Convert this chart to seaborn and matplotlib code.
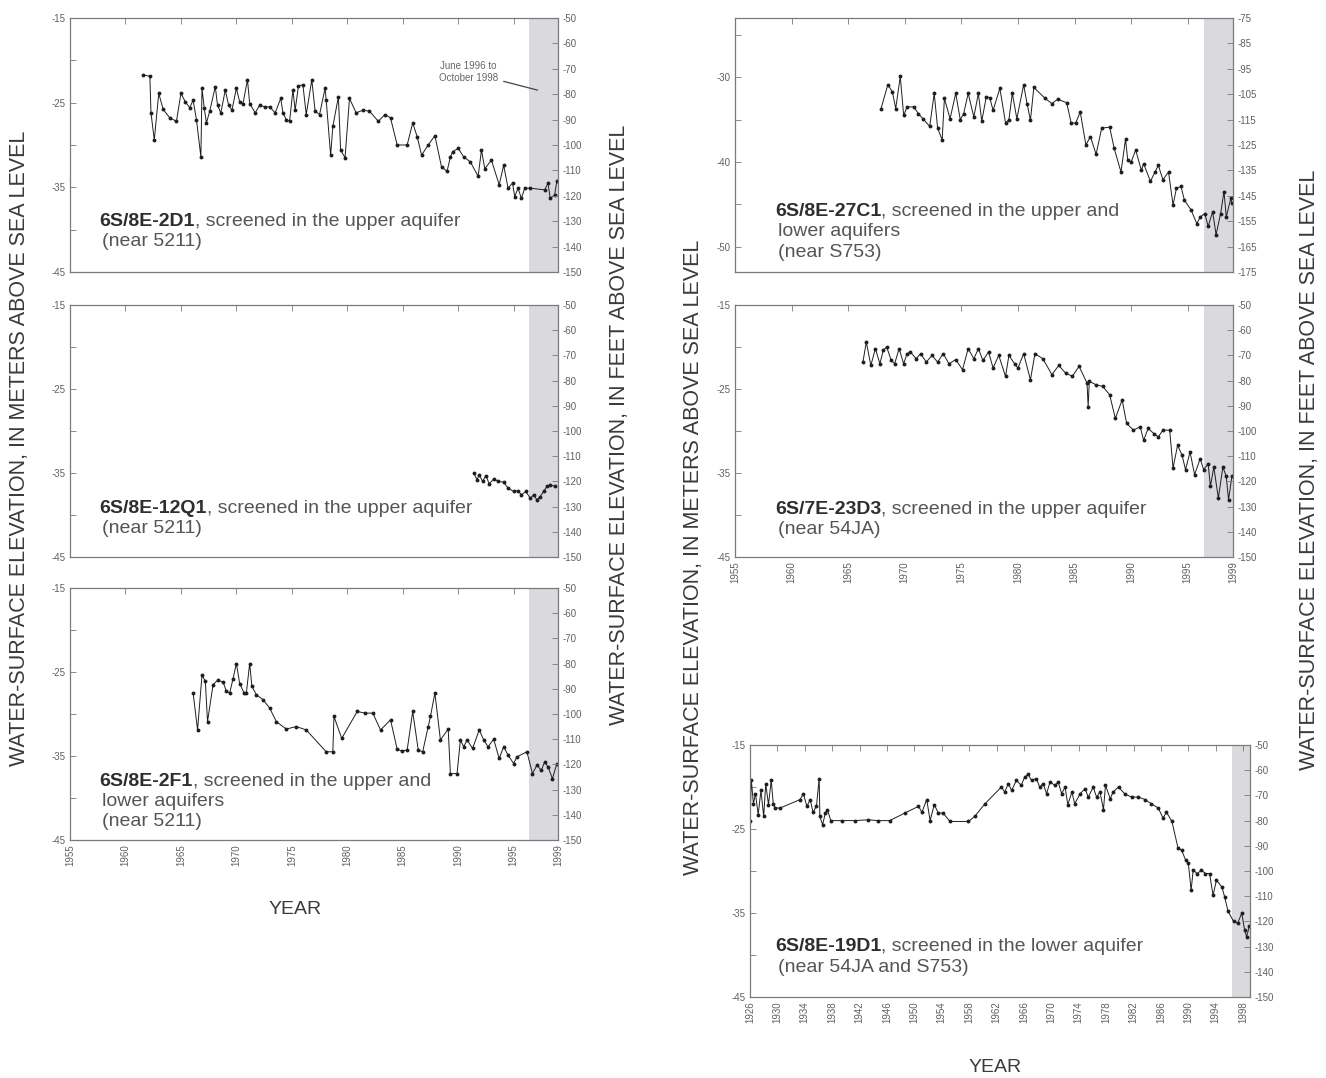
import matplotlib
matplotlib.use('Agg')
import matplotlib.pyplot as plt
import seaborn as sns

# ---- hydrograph readings (decimal year, water level in metres) ----
yr_2d1 = [1961.6, 1962.2, 1962.3, 1962.6, 1963.0, 1963.4, 1964.0, 1964.6, 1965.0, 1965.4,
          1965.8, 1966.1, 1966.4, 1966.8, 1966.9, 1967.1, 1967.3, 1967.6, 1968.1, 1968.3,
          1968.6, 1969.0, 1969.3, 1969.6, 1970.0, 1970.3, 1970.6, 1971.0, 1971.2, 1971.7,
          1972.1, 1972.6, 1973.0, 1973.5, 1974.0, 1974.2, 1974.5, 1974.8, 1975.1, 1975.3,
          1975.6, 1976.0, 1976.3, 1976.8, 1977.1, 1977.5, 1978.0, 1978.1, 1978.5, 1978.7,
          1979.2, 1979.4, 1979.8, 1980.2, 1980.8, 1981.4, 1982.0, 1982.8, 1983.4, 1983.9,
          1984.5, 1985.4, 1985.9, 1986.3, 1986.7, 1987.3, 1987.9, 1988.5, 1989.0, 1989.3,
          1989.5, 1990.0, 1990.5, 1991.1, 1991.8, 1992.1, 1992.4, 1993.0, 1993.7, 1994.1,
          1994.5, 1994.9, 1995.1, 1995.4, 1995.7, 1996.0, 1996.5, 1997.8, 1998.1, 1998.3,
          1998.7, 1998.9]
lev_2d1 = [-21.7, -21.9, -26.2, -29.4, -23.9, -25.8, -26.8, -27.2, -23.9, -24.9,
           -25.6, -24.7, -27.0, -31.4, -23.3, -25.6, -27.4, -26.0, -23.1, -25.3,
           -26.2, -23.5, -25.3, -25.9, -23.3, -24.9, -25.1, -22.3, -25.1, -26.2,
           -25.3, -25.5, -25.5, -26.2, -24.5, -26.2, -27.0, -27.2, -23.5, -25.9,
           -23.0, -22.9, -26.4, -22.3, -26.0, -26.4, -23.3, -24.7, -31.2, -27.8,
           -24.3, -30.6, -31.5, -24.5, -26.2, -25.9, -26.0, -27.2, -26.4, -26.8,
           -30.0, -30.0, -27.4, -29.0, -31.2, -30.0, -28.9, -32.6, -33.1, -31.4,
           -30.8, -30.4, -31.4, -32.0, -33.7, -30.6, -32.8, -31.8, -34.7, -32.4,
           -35.1, -34.5, -36.1, -35.1, -36.3, -35.1, -35.1, -35.3, -34.5, -36.3,
           -35.9, -34.2]

yr_12q1 = [1991.4, 1991.7, 1991.9, 1992.2, 1992.5, 1992.8, 1993.2, 1993.6, 1994.1, 1994.5,
           1995.0, 1995.4, 1995.7, 1996.1, 1996.5, 1996.8, 1997.1, 1997.4, 1997.7, 1998.0,
           1998.3, 1998.7]
lev_12q1 = [-35.0, -35.8, -35.2, -36.0, -35.3, -36.3, -35.7, -36.0, -36.1, -36.8,
            -37.2, -37.1, -37.6, -37.2, -38.0, -37.6, -38.2, -37.8, -37.2, -36.6,
            -36.4, -36.6]

yr_2f1 = [1966.1, 1966.5, 1966.9, 1967.2, 1967.4, 1967.9, 1968.3, 1968.8, 1969.1, 1969.4,
          1969.7, 1970.0, 1970.3, 1970.7, 1970.9, 1971.2, 1971.4, 1971.8, 1972.4, 1973.0,
          1973.6, 1974.5, 1975.4, 1976.3, 1978.1, 1978.7, 1978.8, 1979.5, 1980.9, 1981.6,
          1982.3, 1983.0, 1983.9, 1984.5, 1984.9, 1985.4, 1985.9, 1986.4, 1986.8, 1987.3,
          1987.5, 1987.9, 1988.4, 1989.1, 1989.3, 1989.9, 1990.2, 1990.5, 1990.8, 1991.3,
          1991.9, 1992.3, 1992.7, 1993.2, 1993.7, 1994.1, 1994.5, 1995.0, 1995.3, 1996.2,
          1996.7, 1997.1, 1997.5, 1997.8, 1998.1, 1998.5, 1998.9]
lev_2f1 = [-27.5, -31.9, -25.4, -26.1, -30.9, -26.5, -26.0, -26.2, -27.3, -27.5,
           -25.8, -24.0, -26.4, -27.5, -27.5, -24.0, -26.7, -27.7, -28.3, -29.3,
           -30.9, -31.8, -31.5, -31.9, -34.5, -34.5, -30.3, -32.9, -29.7, -29.9,
           -29.9, -31.9, -30.7, -34.2, -34.4, -34.3, -29.7, -34.3, -34.5, -31.5,
           -30.3, -27.5, -33.1, -31.8, -37.1, -37.1, -33.1, -33.9, -33.1, -34.1,
           -31.9, -33.1, -33.9, -33.0, -35.3, -33.9, -34.9, -35.9, -35.1, -34.5,
           -37.1, -36.1, -36.7, -35.7, -36.3, -37.7, -35.9]

yr_27c1 = [1967.9, 1968.5, 1968.9, 1969.2, 1969.6, 1969.9, 1970.2, 1970.8, 1971.2, 1971.6,
           1972.2, 1972.6, 1972.9, 1973.3, 1973.5, 1974.0, 1974.5, 1974.9, 1975.2, 1975.6,
           1976.1, 1976.5, 1976.8, 1977.2, 1977.5, 1977.8, 1978.4, 1978.9, 1979.2, 1979.5,
           1979.9, 1980.5, 1980.8, 1981.1, 1981.4, 1982.4, 1983.0, 1983.5, 1984.3, 1984.7,
           1985.1, 1985.5, 1986.0, 1986.4, 1986.9, 1987.4, 1988.1, 1988.5, 1989.1, 1989.5,
           1989.7, 1990.0, 1990.4, 1990.9, 1991.1, 1991.7, 1992.1, 1992.4, 1992.8, 1993.3,
           1993.7, 1994.0, 1994.4, 1994.7, 1995.3, 1995.8, 1996.1, 1996.5, 1996.8, 1997.2,
           1997.5, 1997.9, 1998.2, 1998.4, 1998.8, 1998.9]
lev_27c1 = [-33.7, -30.9, -31.7, -33.7, -29.9, -34.5, -33.5, -33.5, -34.3, -34.9,
            -35.8, -31.9, -36.0, -37.4, -32.5, -34.9, -31.9, -35.0, -34.3, -31.9,
            -34.7, -31.9, -35.2, -32.3, -32.4, -33.9, -31.3, -35.4, -35.0, -31.9,
            -34.9, -30.9, -33.1, -35.1, -31.2, -32.5, -33.1, -32.6, -33.0, -35.4,
            -35.4, -34.1, -38.0, -37.0, -39.1, -36.0, -35.9, -38.4, -41.2, -37.3,
            -39.8, -40.0, -38.6, -41.0, -40.2, -42.3, -41.2, -40.4, -42.1, -41.2,
            -45.1, -43.1, -42.9, -44.5, -45.7, -47.3, -46.5, -46.1, -47.6, -45.9,
            -48.6, -46.1, -43.5, -46.5, -44.3, -44.9]

yr_23d3 = [1966.3, 1966.6, 1967.0, 1967.4, 1967.8, 1968.1, 1968.4, 1968.8, 1969.1, 1969.5,
           1969.9, 1970.2, 1970.5, 1971.0, 1971.4, 1971.9, 1972.4, 1972.9, 1973.4, 1973.9,
           1974.5, 1975.1, 1975.6, 1976.1, 1976.5, 1976.9, 1977.4, 1977.8, 1978.3, 1978.9,
           1979.2, 1979.7, 1980.0, 1980.5, 1981.1, 1981.5, 1982.2, 1983.0, 1983.6, 1984.2,
           1984.8, 1985.4, 1986.1, 1986.2, 1986.3, 1986.9, 1987.5, 1988.1, 1988.6, 1989.2,
           1989.6, 1990.2, 1990.8, 1991.1, 1991.5, 1992.0, 1992.4, 1992.8, 1993.4, 1993.7,
           1994.1, 1994.5, 1994.8, 1995.2, 1995.6, 1996.1, 1996.4, 1996.8, 1997.0, 1997.3,
           1997.7, 1998.1, 1998.4, 1998.6, 1998.9]
lev_23d3 = [-21.8, -19.4, -22.2, -20.2, -22.0, -20.4, -20.0, -21.6, -22.0, -20.2,
            -22.0, -20.8, -20.6, -21.4, -20.8, -21.8, -21.0, -21.8, -20.8, -22.0,
            -21.5, -22.7, -20.2, -21.4, -20.2, -21.6, -20.6, -22.5, -21.0, -23.5,
            -21.0, -22.0, -22.5, -20.8, -23.9, -20.8, -21.4, -23.3, -22.2, -23.1,
            -23.5, -22.3, -24.3, -27.1, -24.1, -24.5, -24.7, -25.7, -28.5, -26.3,
            -29.1, -29.9, -29.5, -31.1, -29.7, -30.3, -30.7, -29.9, -29.9, -34.4,
            -31.7, -32.9, -34.6, -32.5, -35.2, -33.3, -34.6, -33.9, -36.6, -34.3,
            -38.0, -34.3, -35.4, -38.2, -35.4]

yr_19d1 = [1926.0, 1926.2, 1926.5, 1926.8, 1927.2, 1927.6, 1928.0, 1928.3, 1928.7, 1929.1,
           1929.4, 1929.7, 1930.4, 1933.3, 1933.8, 1934.3, 1934.8, 1935.2, 1935.7, 1936.1,
           1936.2, 1936.6, 1937.0, 1937.3, 1937.8, 1939.4, 1941.3, 1943.3, 1944.7, 1946.4,
           1948.6, 1950.6, 1951.1, 1951.8, 1952.3, 1952.9, 1953.5, 1954.2, 1955.2, 1957.9,
           1958.8, 1960.3, 1962.7, 1963.2, 1963.7, 1964.2, 1964.9, 1965.6, 1966.1, 1966.6,
           1967.1, 1967.8, 1968.3, 1968.8, 1969.3, 1969.8, 1970.5, 1971.0, 1971.5, 1972.0,
           1972.4, 1973.0, 1973.4, 1974.2, 1974.9, 1975.4, 1976.1, 1976.6, 1977.1, 1977.6,
           1977.9, 1978.6, 1979.0, 1979.8, 1980.7, 1981.7, 1982.7, 1983.7, 1984.6, 1985.6,
           1986.3, 1986.8, 1987.6, 1988.5, 1989.0, 1989.6, 1990.0, 1990.4, 1990.7, 1991.3,
           1991.9, 1992.5, 1993.1, 1993.6, 1994.1, 1994.9, 1995.3, 1995.8, 1996.6, 1997.2,
           1997.8, 1998.2, 1998.5, 1998.9]
lev_19d1 = [-24.1, -19.2, -22.0, -20.8, -23.3, -20.4, -23.5, -19.6, -22.1, -19.2,
            -22.0, -22.5, -22.5, -21.5, -20.8, -22.3, -21.5, -23.0, -22.3, -19.0,
            -23.5, -24.5, -23.1, -22.7, -24.0, -24.0, -24.0, -23.9, -24.0, -24.0,
            -23.1, -22.3, -23.0, -21.5, -24.0, -22.1, -23.1, -23.1, -24.1, -24.1,
            -23.5, -22.0, -20.0, -20.6, -19.6, -20.4, -19.2, -19.8, -18.8, -18.5,
            -19.2, -19.0, -20.0, -19.6, -20.8, -19.4, -19.8, -19.4, -20.8, -20.0,
            -22.1, -20.6, -22.0, -20.8, -20.2, -21.2, -20.0, -21.2, -20.6, -22.7,
            -19.8, -21.4, -20.6, -20.0, -20.8, -21.2, -21.2, -21.5, -22.0, -22.5,
            -23.7, -23.0, -24.1, -27.3, -27.5, -28.7, -29.1, -32.3, -29.9, -30.3,
            -29.9, -30.3, -30.3, -32.9, -31.1, -31.9, -33.1, -34.8, -36.0, -36.2,
            -35.0, -37.0, -37.8, -36.6]

# period shaded on every hydrograph (June 1996 to October 1998)
shade_start, shade_end = 1996.42, 1999.0

years_short = [1955, 1960, 1965, 1970, 1975, 1980, 1985, 1990, 1995, 1999]
years_long = list(range(1926, 1999, 4))

m_std = list(range(-15, -46, -5))
m_std_lab = [-15, -25, -35, -45]
m_top = list(range(-25, -51, -5))
m_top_lab = [-30, -40, -50]
ft_std = list(range(-50, -151, -10))
ft_top = list(range(-75, -176, -10))

sns.set_theme(style='white')
plt.rcParams['font.family'] = ['Liberation Sans', 'DejaVu Sans']
plt.rcParams['axes.unicode_minus'] = False

fig = plt.figure(figsize=(13.26, 10.78), dpi=100)

FRAME = '#7a7a7a'
TICKC = '#606060'
LINEC = '#1e1e1e'
TXT = 14


def panel(rect, yrs, levs, xlim, xticks, show_xlabels, m_lim, m_ticks, m_lab, ft_lim, ft_ticks,
          well, rest, extra_lines, lx, ly):
    ax = fig.add_axes(rect)
    ax.axvspan(shade_start, shade_end, color='#d9d9de', lw=0, zorder=0)
    sns.lineplot(x=yrs, y=levs, ax=ax, estimator=None, sort=False, color=LINEC,
                 linewidth=0.7, marker='o', markersize=2.8, markeredgewidth=0,
                 markerfacecolor=LINEC)
    ax.set_xlim(xlim)
    ax.set_ylim(m_lim)
    ax.set_xticks(xticks)
    if show_xlabels:
        ax.set_xticklabels([str(t) for t in xticks], rotation=90, fontsize=7, color=TICKC)
    else:
        ax.set_xticklabels([])
    ax.set_yticks(m_ticks)
    ax.set_yticklabels([str(v) if v in m_lab else '' for v in m_ticks],
                       fontsize=7, color=TICKC)
    ax.tick_params(direction='in', length=4, width=0.6, color=FRAME, top=True, pad=3)
    for s in ax.spines.values():
        s.set_color(FRAME)
        s.set_linewidth(0.9)
    ax.set_xlabel('')
    ax.set_ylabel('')

    ax2 = ax.twinx()
    ax2.set_ylim(ft_lim)
    ax2.set_yticks(ft_ticks)
    ax2.set_yticklabels([str(v) for v in ft_ticks], fontsize=7, color=TICKC)
    ax2.tick_params(direction='in', length=4, width=0.6, color=FRAME, pad=3)
    for s in ax2.spines.values():
        s.set_visible(False)
    ax2.grid(False)

    t1 = ax.text(lx, ly, well, transform=ax.transAxes, fontsize=TXT, fontweight='bold',
                 color='#2e2e2e', ha='left', va='bottom')
    ax.annotate(rest, xy=(1, 0), xycoords=t1, fontsize=TXT, color='#555555',
                ha='left', va='bottom')
    for i, line in enumerate(extra_lines):
        ax.text(lx + 0.006, ly - 0.08 * (i + 1), line, transform=ax.transAxes,
                fontsize=TXT, color='#555555', ha='left', va='bottom')
    return ax


lw_, lh = 0.368, 0.2356
ax1 = panel([0.0528, 0.7477, lw_, lh], yr_2d1, lev_2d1, (1955, 1999), years_short, False,
            (-45, -15), m_std, m_std_lab, (-150, -50), ft_std,
            '6S/8E-2D1', ', screened in the upper aquifer', ['(near 5211)'], 0.06, 0.165)
ax1.annotate('June 1996 to\nOctober 1998', xy=(1997.4, -23.6), xytext=(1990.9, -21.4),
             fontsize=7, color='#666666', ha='center', va='center',
             arrowprops=dict(arrowstyle='-', color='#444444', lw=0.9))

panel([0.0528, 0.4833, lw_, 0.2338], yr_12q1, lev_12q1, (1955, 1999), years_short, False,
      (-45, -15), m_std, m_std_lab, (-150, -50), ft_std,
      '6S/8E-12Q1', ', screened in the upper aquifer', ['(near 5211)'], 0.06, 0.16)

panel([0.0528, 0.2208, lw_, 0.2338], yr_2f1, lev_2f1, (1955, 1999), years_short, True,
      (-45, -15), m_std, m_std_lab, (-150, -50), ft_std,
      '6S/8E-2F1', ', screened in the upper and', ['lower aquifers', '(near 5211)'],
      0.06, 0.2)

rw = 0.3756
panel([0.5543, 0.7477, rw, lh], yr_27c1, lev_27c1, (1955, 1999), years_short, False,
      (-53, -23), m_top, m_top_lab, (-175, -75), ft_top,
      '6S/8E-27C1', ', screened in the upper and', ['lower aquifers', '(near S753)'],
      0.08, 0.205)

panel([0.5543, 0.4833, rw, 0.2338], yr_23d3, lev_23d3, (1955, 1999), years_short, True,
      (-45, -15), m_std, m_std_lab, (-150, -50), ft_std,
      '6S/7E-23D3', ', screened in the upper aquifer', ['(near 54JA)'], 0.08, 0.155)

panel([0.5656, 0.0751, 0.3771, 0.2338], yr_19d1, lev_19d1, (1926, 1999), years_long, True,
      (-45, -15), m_std, m_std_lab, (-150, -50), ft_std,
      '6S/8E-19D1', ', screened in the lower aquifer', ['(near 54JA and S753)'], 0.05, 0.165)

# axis titles
lab_kw = dict(fontsize=15.5, color='#3a3a3a', rotation=90, ha='center', va='center')
fig.text(20 / 1326, 1 - 448 / 1078, 'WATER-SURFACE ELEVATION, IN METERS ABOVE SEA LEVEL', **lab_kw)
fig.text(620 / 1326, 1 - 425 / 1078, 'WATER-SURFACE ELEVATION, IN FEET ABOVE SEA LEVEL', **lab_kw)
fig.text(693 / 1326, 1 - 557 / 1078, 'WATER-SURFACE ELEVATION, IN METERS ABOVE SEA LEVEL', **lab_kw)
fig.text(1310 / 1326, 1 - 470 / 1078, 'WATER-SURFACE ELEVATION, IN FEET ABOVE SEA LEVEL', **lab_kw)
fig.text(295 / 1326, 1 - 910 / 1078, 'YEAR', fontsize=14, color='#3a3a3a', ha='center', va='center')
fig.text(995 / 1326, 1 - 1068 / 1078, 'YEAR', fontsize=14, color='#3a3a3a', ha='center', va='center')

fig.savefig('out.png', dpi=100, facecolor='white')
